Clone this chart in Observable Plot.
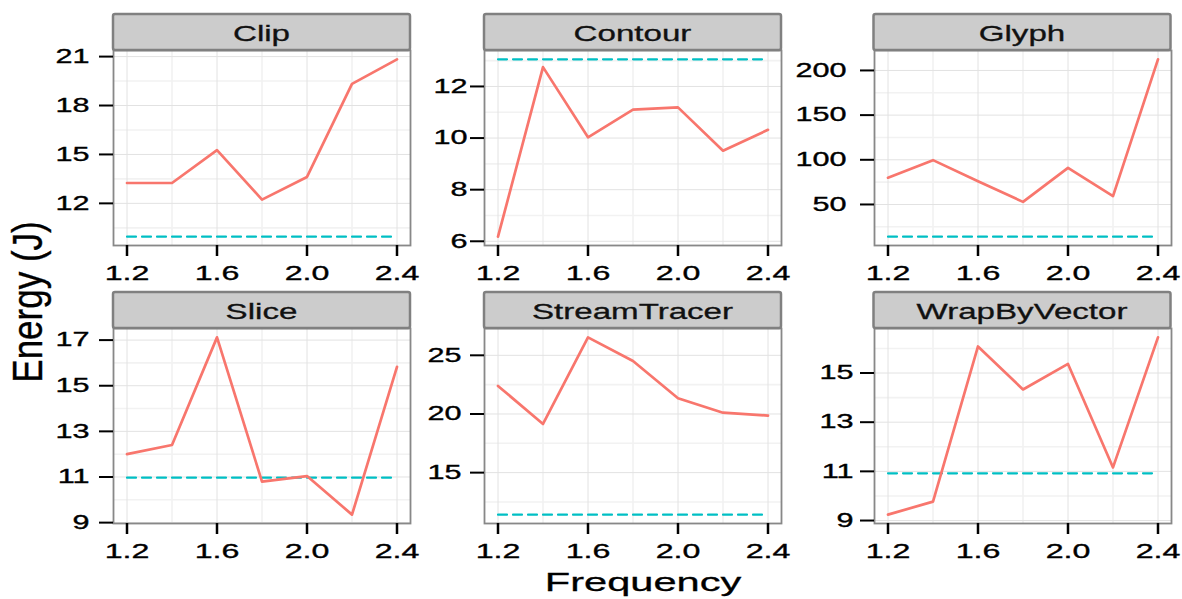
<!DOCTYPE html>
<html><head><meta charset="utf-8">
<script src="https://cdn.jsdelivr.net/npm/d3@7"></script>
<script src="https://cdn.jsdelivr.net/npm/@observablehq/plot@0.6"></script>
<style>
html,body{margin:0;padding:0;background:#fff;}
#root{position:relative;width:1182px;height:599px;overflow:hidden;font-family:"Liberation Sans",Arial,sans-serif;color:#000;}
#root svg{position:absolute;}
</style></head><body><div id="root"></div>
<script>
// ---- data ----
const frequencies = [1.2, 1.4, 1.6, 1.8, 2.0, 2.2, 2.4];
const panelNames = ["Clip", "Contour", "Glyph", "Slice", "StreamTracer", "WrapByVector"];
const clipEnergy = [13.25, 13.25, 15.27, 12.23, 13.62, 19.33, 20.83];
const contourEnergy = [6.18, 12.75, 10.03, 11.1, 11.19, 9.51, 10.32];
const glyphEnergy = [80, 99.6, 76, 52.9, 91, 59.4, 212.4];
const sliceEnergy = [12.0, 12.4, 17.12, 10.8, 11.04, 9.35, 15.83];
const streamTracerEnergy = [22.39, 19.15, 26.53, 24.51, 21.34, 20.11, 19.86];
const wrapByVectorEnergy = [9.24, 9.77, 16.08, 14.33, 15.37, 11.16, 16.45];
const baselineEnergy = [9.96, 13.05, 14, 10.97, 11.42, 10.92];
const xTickValues = [1.2, 1.6, 2.0, 2.4];
const yTicksClip = [12, 15, 18, 21];
const yTicksContour = [6, 8, 10, 12];
const yTicksGlyph = [50, 100, 150, 200];
const yTicksSlice = [9, 11, 13, 15, 17];
const yTicksStreamTracer = [15, 20, 25];
const yTicksWrapByVector = [9, 11, 13, 15];
const xTitle = "Frequency";
const yTitle = "Energy (J)";

const seriesList = [clipEnergy, contourEnergy, glyphEnergy, sliceEnergy, streamTracerEnergy, wrapByVectorEnergy];
const yTickList = [yTicksClip, yTicksContour, yTicksGlyph, yTicksSlice, yTicksStreamTracer, yTicksWrapByVector];

// ---- layout ----
const frameLeft = [113, 484, 873.5];
const frameTop = [50, 328];
const frameW = 297, frameH = 195, stripH = 36;
const yPad = [10, 3, 14, 10, 9, 7];
const ML = 120, MR = 40, MT = 10, MB = 60;
const RED = "#F8766D", CYAN = "#00BFC4";

function stretch(svg, k) {
  svg.querySelectorAll("text").forEach(t => {
    const tr = t.getAttribute("transform") || "";
    const x = parseFloat(t.getAttribute("x")) || 0;
    t.removeAttribute("x");
    t.setAttribute("transform", `${tr} translate(${x},0) scale(${k},1)`);
    t.setAttribute("stroke", "#000");
    t.setAttribute("stroke-width", 0.35);
  });
}

const root = document.getElementById("root");
const xExt = d3.extent(frequencies), xr = xExt[1] - xExt[0];
const xDomain = [xExt[0] - 0.05 * xr, xExt[1] + 0.05 * xr];
const xStep = xTickValues[1] - xTickValues[0];
const xMinor = xTickValues.map(t => t + xStep / 2).filter(v => v > xDomain[0] && v < xDomain[1]);

panelNames.forEach((name, i) => {
  const col = i % 3, row = Math.floor(i / 3);
  const vals = seriesList[i], base = baselineEnergy[i];
  const lo = Math.min(d3.min(vals), base), hi = Math.max(d3.max(vals), base);
  const yDomain = [lo - 0.05 * (hi - lo), hi + 0.05 * (hi - lo)];
  const ticks = yTickList[i];
  const st = ticks[1] - ticks[0];
  const yMinor = [ticks[0] - st / 2, ...ticks.map(t => t + st / 2)].filter(v => v > yDomain[0] && v < yDomain[1]);
  const data = frequencies.map((f, j) => ({f, e: vals[j]}));

  const svg = Plot.plot({
    width: ML + frameW + MR, height: MT + frameH + MB,
    marginLeft: ML, marginRight: MR, marginTop: MT, marginBottom: MB,
    style: {background: "transparent", overflow: "visible", maxWidth: "none", fontFamily: "Liberation Sans, Arial, sans-serif", color: "#000"},
    x: {domain: xDomain},
    y: {domain: yDomain},
    marks: [
      Plot.ruleX(xMinor, {stroke: "#f2f2f2", strokeWidth: 1.6}),
      Plot.ruleY(yMinor, {stroke: "#f2f2f2", strokeWidth: 1.6}),
      Plot.ruleX(xTickValues, {stroke: "#e2e2e2", strokeWidth: 1}),
      Plot.ruleY(ticks, {stroke: "#e2e2e2", strokeWidth: 1}),
      Plot.line(frequencies, {x: d => d, y: () => base, stroke: CYAN, strokeWidth: 2.2, strokeDasharray: "9,6"}),
      Plot.line(data, {x: "f", y: "e", stroke: RED, strokeWidth: 2.7}),
      Plot.frame({stroke: "#888888", strokeWidth: 1.8}),
      Plot.axisX({ticks: xTickValues, tickSize: 11, tickPadding: 9, fontSize: 20.5, tickFormat: d3.format(".1f"), strokeWidth: 2.5, label: null}),
      Plot.axisY({ticks: ticks, tickSize: 14, tickPadding: yPad[i], fontSize: 19.5, tickFormat: d => String(d), strokeWidth: 2, label: null})
    ]
  });
  stretch(svg, 1.57);
  svg.style.position = "absolute";
  svg.style.left = (frameLeft[col] - ML) + "px";
  svg.style.top = (frameTop[row] - MT) + "px";
  root.appendChild(svg);
});

// ---- overlay: strips and axis titles ----
const ov = d3.select(root).append("svg")
  .attr("width", 1182).attr("height", 599)
  .style("left", "0px").style("top", "0px")
  .attr("font-family", "Liberation Sans, Arial, sans-serif");

panelNames.forEach((name, i) => {
  const col = i % 3, row = Math.floor(i / 3);
  const fl = frameLeft[col], ft = frameTop[row];
  ov.append("rect")
    .attr("x", fl).attr("y", ft - stripH).attr("width", frameW).attr("height", stripH)
    .attr("rx", 2).attr("fill", "#cccccc").attr("stroke", "#808080").attr("stroke-width", 2.5);
  ov.append("text")
    .attr("transform", `translate(${fl + frameW / 2},${ft - 9.3}) scale(1.54,1)`)
    .attr("text-anchor", "middle").attr("font-size", 21.5).attr("fill", "#111")
    .attr("stroke", "#111").attr("stroke-width", 0.3)
    .text(name);
});

ov.append("text")
  .attr("transform", "translate(643,591) scale(1.57,1)")
  .attr("text-anchor", "middle").attr("font-size", 26.5).attr("fill", "#000")
  .attr("stroke", "#000").attr("stroke-width", 0.3)
  .text(xTitle);

ov.append("text")
  .attr("transform", "translate(41.7,302) scale(1.2,1) rotate(-90)")
  .attr("text-anchor", "middle").attr("font-size", 35).attr("fill", "#000")
  .attr("stroke", "#000").attr("stroke-width", 0.3)
  .text(yTitle);
</script>
</body></html>
